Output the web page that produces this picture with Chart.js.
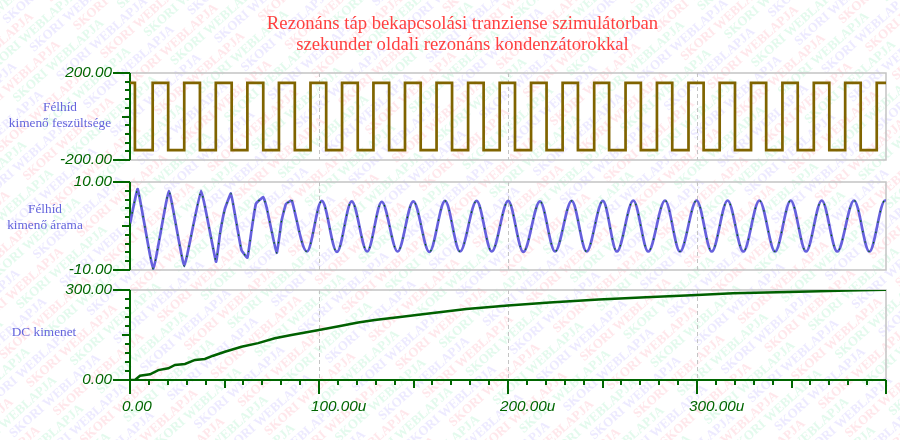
<!DOCTYPE html>
<html>
<head>
<meta charset="utf-8">
<script src="https://cdn.jsdelivr.net/npm/chart.js@4.4.0/dist/chart.umd.min.js"></script>
<style>
body { margin: 0; background: #fff; }
#wrap { position: relative; width: 900px; height: 440px; overflow: hidden; }
#wrap canvas { position: absolute; left: 0; }
</style>
</head>
<body>
<div id="wrap">
  <canvas id="bg" width="900" height="440" style="top:0"></canvas>
  <canvas id="volt" width="900" height="170" style="top:0"></canvas>
  <canvas id="curr" width="900" height="110" style="top:170px"></canvas>
  <canvas id="dc" width="900" height="160" style="top:280px"></canvas>
</div>
<script>
// time axis, microseconds
const timeTicks = [0, 100, 200, 300, 400];
const timeLabels = ['0.00', '100.00u', '200.00u', '300.00u', ''];
const gridTimes = [100, 200, 300];

// half bridge output voltage: switching instants and the level after each one
const sqTimes = [0, 2.6, 12.0, 20.2, 28.7, 37.0, 45.4, 53.8, 62.1, 70.5, 78.8, 87.2, 95.5, 103.8,
  112.2, 120.5, 128.8, 137.1, 145.5, 153.8, 162.2, 170.4, 178.9, 187.1, 195.6, 203.7, 212.2, 220.4,
  228.9, 237.0, 245.6, 253.5, 262.2, 270.3, 278.8, 286.9, 295.5, 303.5, 312.0, 320.1, 328.6, 336.6,
  345.2, 353.3, 361.8, 370.0, 378.4, 386.6, 395.1, 400];
const sqVolts = [155, -155, 155, -155, 155, -155, 155, -155, 155, -155, 155, -155, 155, -155,
  155, -155, 155, -155, 155, -155, 155, -155, 155, -155, 155, -155, 155, -155,
  155, -155, 155, -155, 155, -155, 155, -155, 155, -155, 155, -155, 155, -155,
  155, -155, 155, -155, 155, -155, 155, 155];
const voltTicks = [-200, 200];

// half bridge output current, start-up part
const curStartT = [0, 4.1, 12.3, 20.6, 28.7, 37.6, 45.5, 47.6, 50.2, 53.4, 55.5, 59.0, 62.1, 64.3,
  66.6, 70.5, 72.3, 77.6, 80.2, 82.5, 85.6];
const curStartA = [0.5, 8.4, -9.8, 8.0, -9.1, 8.0, -8.1, -1.8, 3.9, 7.4, 2.7, -5.5, -7.2, -1.0,
  5.0, 6.6, 4.2, -6.1, 1.2, 5.0, 5.9];
// current, settled part (peaks and troughs)
const curT = [85.6, 93.6, 101.5, 109.5, 117.3, 125.5, 133.2, 141.6, 149.9, 158.4, 166.7, 174.6,
  183.4, 191.4, 200.1, 208.1, 216.9, 224.9, 233.7, 241.6, 250.2, 257.6, 266.3, 274.2, 283.1, 291.0,
  299.8, 307.8, 316.2, 324.5, 333.0, 341.3, 349.6, 357.7, 366.0, 374.2, 383.1, 391.2, 399.5, 400];
const curA = [5.9, -5.8, 5.7, -5.9, 5.6, -5.8, 5.5, -5.8, 5.6, -5.9, 5.7, -5.8,
  5.7, -5.8, 5.7, -5.9, 5.6, -5.8, 5.7, -5.8, 5.7, -5.8, 5.8, -5.8, 5.8, -5.8,
  5.8, -5.8, 5.8, -5.8, 5.8, -5.8, 5.8, -5.8, 5.8, -5.8, 5.8, -5.8, 5.8, 5.8];
const currTicks = [-10, 10];

// DC output
const dcT = [0, 2.6, 5.3, 10.6, 15.0, 20.3, 23.8, 29.1, 34.4, 39.6, 44.0, 50.2, 59.0, 67.8, 76.6,
  85.4, 100, 111.9, 120.7, 129.5, 144, 160.3, 178, 200, 222, 248, 273, 300, 319, 354, 380, 400];
const dcV = [0, 0, 14, 19, 33, 39, 50, 53.5, 67, 70, 81, 94, 111, 123, 139,
  150, 167, 181, 192, 200, 211, 223, 237, 248, 258, 268, 276, 283, 289, 294, 298, 301];
const dcTicks = [0, 300];

const axisGreen = '#006600';
const labelBlue = '#6464dc';
const tickFont = { family: '"Liberation Sans", Arial, sans-serif', size: 15.3, style: 'italic' };

function pts(xs, ys) { return xs.map((t, i) => ({ x: t, y: ys[i] })); }

// faint watermark behind everything
(function () {
  const bg = document.getElementById('bg').getContext('2d');
  const wm = ['#ffcfd8', '#c8f5dc', '#dcd6ff'];
  bg.font = 'bold 13px "Liberation Serif", serif';
  bg.globalAlpha = 0.5;
  bg.save();
  bg.translate(450, 220);
  bg.rotate(-42 * Math.PI / 180);
  for (let r = -45; r <= 45; r++) {
    bg.fillStyle = wm[((r % 3) + 3) % 3];
    const shift = (r * 47) % 140;
    for (let c = -7; c <= 7; c++) bg.fillText('SKORI WEBLAPJA', c * 140 + shift, r * 13);
  }
  bg.restore();
})();

const scopeFrame = {
  id: 'scopeFrame',
  beforeDatasetsDraw(chart, args, opts) {
    const { ctx, chartArea: a, scales: { x, y } } = chart;
    ctx.save();
    ctx.strokeStyle = '#c4c4c4';
    ctx.lineWidth = 1.5;
    ctx.beginPath();
    ctx.moveTo(a.left, a.top); ctx.lineTo(a.right, a.top);
    ctx.lineTo(a.right, a.bottom); ctx.lineTo(a.left, a.bottom);
    ctx.stroke();
    ctx.lineWidth = 1;
    ctx.setLineDash([4, 3]);
    gridTimes.forEach(t => {
      const px = Math.round(x.getPixelForValue(t)) + 0.5;
      ctx.beginPath(); ctx.moveTo(px, a.top); ctx.lineTo(px, a.bottom); ctx.stroke();
    });
    ctx.setLineDash([]);
    ctx.strokeStyle = axisGreen;
    ctx.lineWidth = 2;
    ctx.beginPath(); ctx.moveTo(a.left, a.top); ctx.lineTo(a.left, a.bottom); ctx.stroke();
    const step = (y.max - y.min) / 10;
    for (let i = 0; i <= 10; i++) {
      const py = Math.round(y.getPixelForValue(y.min + i * step));
      const len = (i === 0 || i === 10) ? 17 : (i === 5 ? 8 : 5);
      ctx.beginPath(); ctx.moveTo(a.left - len, py); ctx.lineTo(a.left, py); ctx.stroke();
    }
    if (opts.xAxis) {
      ctx.beginPath(); ctx.moveTo(a.left, a.bottom); ctx.lineTo(a.right, a.bottom); ctx.stroke();
      for (let t = x.min; t <= x.max; t += 10) {
        const px = Math.round(x.getPixelForValue(t));
        const len = t % 100 === 0 ? 14 : (t % 50 === 0 ? 8 : 5);
        ctx.beginPath(); ctx.moveTo(px, a.bottom); ctx.lineTo(px, a.bottom + len); ctx.stroke();
      }
    }
    ctx.fillStyle = labelBlue;
    ctx.font = '13.3px "Liberation Serif", "Times New Roman", serif';
    ctx.textAlign = 'center';
    ctx.textBaseline = 'alphabetic';
    opts.label.forEach((line, i) => ctx.fillText(line, opts.labelX, opts.labelY - chart.canvas.offsetTop + i * 16));
    ctx.restore();
  }
};

function yScale(ticks, width) {
  return {
    min: ticks[0], max: ticks[ticks.length - 1],
    afterBuildTicks: s => { s.ticks = ticks.map(v => ({ value: v })); },
    afterFit: s => { s.width = width; s.paddingTop = 0; s.paddingBottom = 0; },
    grid: { display: false, drawTicks: false },
    border: { display: false },
    ticks: { color: axisGreen, font: tickFont, padding: 18, callback: v => v.toFixed(2) }
  };
}

function xScale(show) {
  return {
    type: 'linear', min: timeTicks[0], max: timeTicks[timeTicks.length - 1],
    display: show,
    afterBuildTicks: s => { s.ticks = timeTicks.map(v => ({ value: v })); },
    afterFit: s => { s.height = show ? 60 : 0; s.paddingLeft = 0; s.paddingRight = 0; },
    grid: { display: false, drawTicks: false },
    border: { display: false },
    ticks: {
      color: axisGreen, font: tickFont, padding: 18, align: 'start', labelOffset: -8,
      maxRotation: 0, autoSkip: false,
      callback: (v) => timeLabels[timeTicks.indexOf(v)]
    }
  };
}

const common = {
  responsive: false,
  animation: false,
  events: [],
  elements: { point: { radius: 0 } },
};

new Chart(document.getElementById('volt'), {
  type: 'line',
  data: {
    datasets: [{
      data: pts(sqTimes, sqVolts), stepped: true,
      borderColor: '#806400', borderWidth: 2.7
    }]
  },
  options: Object.assign({}, common, {
    layout: { padding: { left: 39, right: 14, top: 0, bottom: 10 } },
    scales: { x: xScale(false), y: yScale(voltTicks, 91) },
    plugins: {
      legend: { display: false }, tooltip: { enabled: false },
      title: {
        display: true,
        text: ['Rezonáns táp bekapcsolási tranziense szimulátorban', 'szekunder oldali rezonáns kondenzátorokkal'],
        color: '#ff4040',
        font: { family: '"Liberation Serif", "Times New Roman", serif', size: 18.7, weight: 'normal', lineHeight: 1.123 },
        padding: { top: 14, bottom: 17 }
      },
      scopeFrame: { label: ['Félhíd', 'kimenő feszültsége'], labelX: 60, labelY: 111 }
    }
  }),
  plugins: [scopeFrame]
});

new Chart(document.getElementById('curr'), {
  type: 'line',
  data: {
    datasets: [
      { data: pts(curStartT, curStartA), borderColor: '#6660dd', borderWidth: 2.7, tension: 0.1, order: 2 },
      { data: pts(curT, curA), borderColor: '#6660dd', borderWidth: 2.7, cubicInterpolationMode: 'monotone', order: 2 },
      { data: pts(curStartT, curStartA), borderColor: '#006600', borderWidth: 1.2, borderDash: [1.5, 9], tension: 0.1, order: 1 },
      { data: pts(curT, curA), borderColor: '#006600', borderWidth: 1.2, borderDash: [1.5, 9], cubicInterpolationMode: 'monotone', order: 1 }
    ]
  },
  options: Object.assign({}, common, {
    layout: { padding: { left: 0, right: 14, top: 12, bottom: 10 } },
    scales: { x: xScale(false), y: yScale(currTicks, 130) },
    plugins: {
      legend: { display: false }, tooltip: { enabled: false },
      scopeFrame: { label: ['Félhíd', 'kimenő árama'], labelX: 45, labelY: 213 }
    }
  }),
  plugins: [scopeFrame]
});

new Chart(document.getElementById('dc'), {
  type: 'line',
  data: {
    datasets: [{ data: pts(dcT, dcV), borderColor: '#006000', borderWidth: 2.5 }]
  },
  options: Object.assign({}, common, {
    layout: { padding: { left: 0, right: 14, top: 10, bottom: 0 } },
    scales: { x: xScale(true), y: yScale(dcTicks, 130) },
    plugins: {
      legend: { display: false }, tooltip: { enabled: false },
      scopeFrame: { label: ['DC kimenet'], labelX: 44, labelY: 336, xAxis: true }
    }
  }),
  plugins: [scopeFrame]
});
</script>
</body>
</html>
